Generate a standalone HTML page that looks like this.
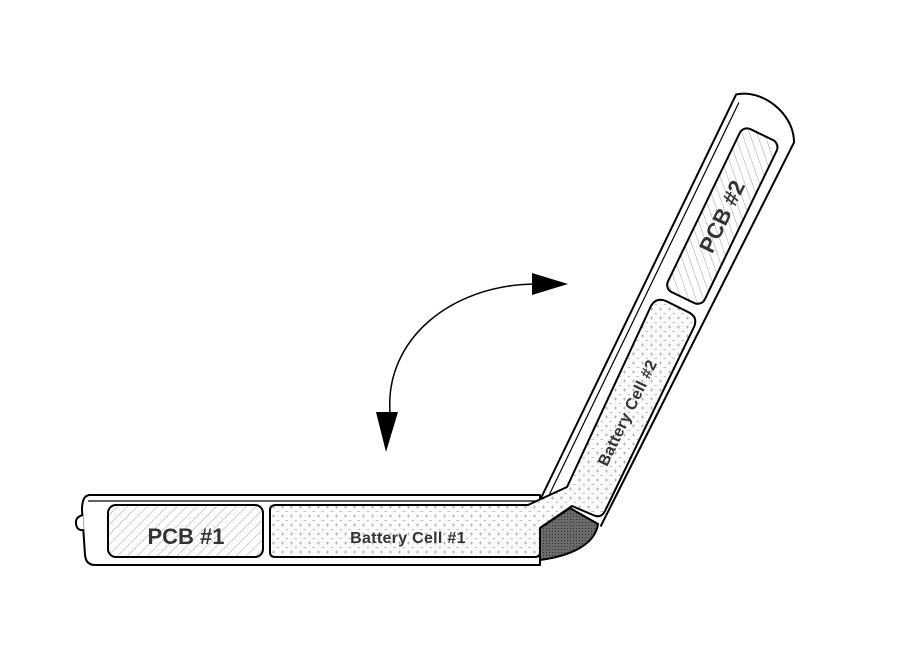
<!DOCTYPE html>
<html><head><meta charset="utf-8"><style>html,body{margin:0;padding:0;background:#fff}svg{display:block}</style></head>
<body>
<svg width="914" height="664" viewBox="0 0 914 664" xmlns="http://www.w3.org/2000/svg">
<defs>
<pattern id="hatch" patternUnits="userSpaceOnUse" width="7" height="7" patternTransform="rotate(45)">
<rect width="7" height="7" fill="#fff"/><line x1="0" y1="0" x2="0" y2="7" stroke="#888" stroke-width="0.8"/></pattern>
<pattern id="dots" patternUnits="userSpaceOnUse" width="9" height="9">
<rect width="9" height="9" fill="#fbfbfb"/><path d="M2 3h3M3.5 1.5v3M6.5 7.5h3" stroke="#aaa" stroke-width="0.8"/></pattern>
<pattern id="dark" patternUnits="userSpaceOnUse" width="3" height="3">
<rect width="3" height="3" fill="#6a6a6a"/><rect width="1" height="1" fill="#333"/></pattern>
</defs>
<g fill="none" stroke="#000" stroke-width="2" stroke-linejoin="round">
<g transform="translate(542,496) rotate(-64.2)">
<path d="M-5,0 L446,0 C462,20 455,60 428,73 L-2,66" fill="#fff"/>
<line x1="5" y1="6" x2="440" y2="6" stroke-width="1.2"/>
<rect x="240" y="20" width="181" height="41" rx="8" fill="url(#hatch)"/>
</g>
<path d="M90,495 L540,495 L540,565 L95,565 Q86,565 85,555 L82,510 Q82,495 90,495 Z" fill="#fff"/>
<line x1="88" y1="501" x2="540" y2="501" stroke-width="1.2"/>
<path d="M83,515 Q75,517 76,524 Q77,531 84,530" fill="#fff"/>
<path d="M540,528 L570,508 L598,524 C595,545 570,556 540,560 Z" fill="url(#dark)"/>
<rect x="108" y="505" width="155" height="52" rx="8" fill="url(#hatch)"/>
<path d="M276,505 L528,505 L567,487 L651,306 Q656,297 666,301 L690,313 Q698,318 694,327 L605,511 Q601,519 593,515 L572,506 L540,528 L540,552 Q540,557 535,557 L275,557 Q270,557 270,552 L270,510 Q270,505 276,505 Z" fill="url(#dots)"/>
<path d="M390,412 C385,340 450,285 535,284" stroke-width="1.5"/>
</g>
<polygon points="532,273 568,284 532,295" fill="#000"/>
<polygon points="376,412 398,412 386,452" fill="#000"/>
<g font-family="Liberation Sans, sans-serif" font-weight="bold" fill="#333" text-anchor="middle">
<text x="186" y="544" font-size="22">PCB #1</text>
<text x="408" y="543" font-size="16" letter-spacing="0.3">Battery Cell #1</text>
<g transform="translate(542,496) rotate(-64.2)">
<text x="330" y="48" font-size="22">PCB #2</text>
<text x="112" y="46" font-size="16" letter-spacing="0.3">Battery Cell #2</text>
</g>
</g>
</svg>
</body></html>
